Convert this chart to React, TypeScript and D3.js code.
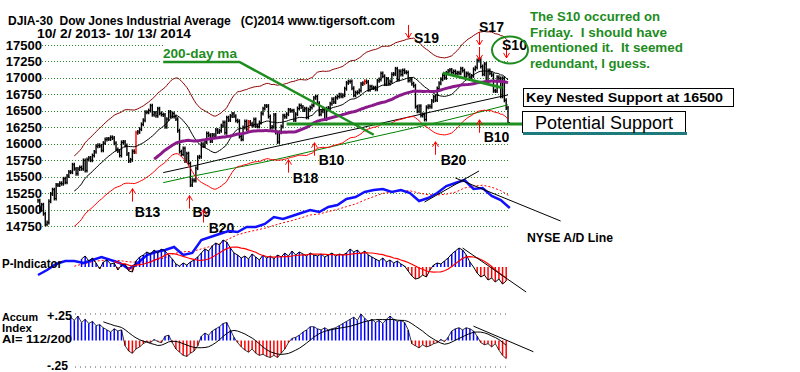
import React, { useEffect, useRef } from "react";
import * as d3 from "d3";

// DJIA daily closes, 10/2/2013 .. 10/13/2014
const closes: number[] = [
	// Oct 2013
	15133, 14996, 15072, 14936, 14776, 14802, 15126, 15237, 15301, 15168, 15373,
	15371, 15399, 15392, 15467, 15413, 15509, 15570, 15568, 15680, 15618, 15545,
	// Nov
	15615, 15639, 15618, 15746, 15593, 15761, 15783, 15750, 15821, 15876, 15961,
	15976, 15967, 15900, 16009, 16064, 16073, 16072, 16097, 16086,
	// Dec
	16008, 15914, 15889, 15821, 16020, 16025, 15973, 15844, 15739, 15755, 15885,
	15875, 16167, 16179, 16221, 16294, 16357, 16479, 16478, 16504, 16577,
	// Jan 2014
	16441, 16469, 16425, 16531, 16462, 16444, 16437, 16257, 16374, 16482, 16418,
	16459, 16415, 16374, 16198, 15880, 15838, 15929, 15739, 15849, 15699,
	// Feb
	15373, 15445, 15441, 15629, 15795, 15802, 15994, 15964, 16027, 16154, 16130,
	16040, 16133, 16104, 16208, 16179, 16198, 16272, 16322,
	// Mar
	16168, 16395, 16360, 16421, 16453, 16419, 16351, 16341, 16109, 16066, 16247,
	16337, 16222, 16331, 16303, 16277, 16368, 16268, 16264, 16323, 16458,
	// Apr
	16533, 16573, 16572, 16413, 16246, 16256, 16437, 16170, 16027, 16174, 16263,
	16425, 16409, 16449, 16514, 16501, 16502, 16361, 16449, 16535, 16581,
	// May
	16559, 16513, 16531, 16401, 16518, 16551, 16583, 16696, 16715, 16614, 16447,
	16492, 16512, 16374, 16533, 16543, 16607, 16676, 16634, 16699, 16717,
	// Jun
	16743, 16722, 16737, 16836, 16924, 16943, 16945, 16843, 16735, 16776, 16781,
	16808, 16906, 16921, 16947, 16937, 16818, 16867, 16846, 16851, 16827,
	// Jul
	16956, 16976, 17068, 17024, 16906, 16985, 16915, 16944, 17055, 17060, 17138,
	16976, 17100, 17052, 17114, 17087, 17083, 16961, 16982, 16912, 16881, 16563,
	// Aug
	16493, 16570, 16429, 16443, 16368, 16554, 16570, 16560, 16651, 16713, 16663,
	16838, 16919, 16979, 17039, 17001, 17077, 17107, 17122, 17080, 17098,
	// Sep
	17068, 17079, 17069, 17138, 17111, 17014, 17068, 17049, 16988, 17031, 17131,
	17157, 17266, 17280, 17173, 17056, 17210, 16946, 17113, 17071, 17043,
	// Oct
	16804, 16801, 17009, 16992, 16720, 16994, 16660, 16544, 16321,
];

const priceTicks = [
	17500, 17250, 17000, 16750, 16500, 16250, 16000, 15750, 15500, 15250, 15000,
	14750,
];

// longer averages (day index -> value)
const slowMaDays = [69, 84, 123, 178, 217, 259];
const ma200 = [15409, 15500, 15712, 16061, 16303, 16591];
const maSlow = [15561, 15652, 15909, 16242, 16485, 16742];

// NYSE A/D line, weekly (every 5 trading days), relative units
const adLine = [
	5, 10, 16, 19, 19, 17, 20, 23, 20, 17, 11, 17, 25, 28, 30, 33, 25, 27, 40,
	43, 46, 49, 48, 53, 53, 56, 63, 61, 64, 67, 70, 68, 73, 75, 81, 83, 88, 90,
	91, 88, 90, 87, 79, 82, 87, 94, 97, 100, 91, 92, 84, 80, 72,
];

// P-Indicator, every 2nd trading day from day 24
const pStartDay = 24;
const pIndicator = [
	8, 11, 6, 9, 4, -2, 5, 7, 3, 4, -3, 2, 3, -4, -5, 6, 10, 12, 15, 13, 17, 14,
	18, 16, 12, 8, 3, 1, 4, 2, 5, 7, 10, 14, 18, 16, 21, 24, 22, 27, 25, 19, 14,
	12, 9, 11, 8, 13, 10, 7, 12, 9, 11, 8, 12, 10, 14, 11, 16, 12, 15, 13, 11,
	14, 12, 11, 13, 10, 12, 14, 11, 13, 12, 14, 18, 15, 17, 13, 16, 12, 10, 8, 6,
	9, 5, 7, 4, 6, 3, 1, -4, -9, -12, -11, -8, -10, -3, 2, 4, 3, 6, 9, 13, 16,
	19, 17, 12, 5, 0, -6, -10, -8, -13, -11, -15, -12, -17, -14,
];

// Accumulation Index (hundredths), every 2nd trading day from day 18
const accStartDay = 18;
const accumIndex = [
	22, 19, 23, 17, 20, 16, 18, 14, 15, 12, 10, 8, 11, 9, 10, -5, -10, -12, -8,
	-6, -3, -1, -2, 1, -1, -2, 4, 5, -2, -8, -11, -14, -15, -12, -10, -5, 4, 7,
	5, 9, 11, 13, 16, 17, 10, 3, -2, -6, -9, -11, -8, -12, -14, -13, -15, -16,
	-14, -16, -12, -8, -2, 2, 3, 5, 8, 10, 13, 13, 11, 10, 12, 10, 11, 12, 14,
	16, 18, 20, 22, 19, 25, 21, 18, 20, 17, 19, 16, 20, 23, 20, 18, 19, 17, 10,
	-3, -5, -7, -4, -6, -5, -3, -2, 1, -1, 3, 9, 11, 12, 10, 12, 11, 9, 4, -2,
	-4, -3, -6, -3, -9, -14, -17,
];

// buy / sell signals: arrow tip at (day, price)
const signals = [
	{ label: "B13", day: 52, price: 15318 },
	{ label: "B9", day: 83, price: 15212 },
	{ label: "B20", day: 91, price: 15000 },
	{ label: "B18", day: 138, price: 15758 },
	{ label: "B10", day: 152, price: 16015 },
	{ label: "B20", day: 219, price: 16030 },
	{ label: "B10", day: 243, price: 16364 },
	{ label: "S19", day: 204, price: 17606 },
	{ label: "S17", day: 243, price: 17500 },
	{ label: "", day: 243, price: 17273 },
	{ label: "S10", day: 258, price: 17303 },
];
const redBarDays = [54, 116, 180];

const labelNudge: Record<string, [number, number]> = {
	B13: [15, 23],
	B9: [12, 16],
	B20: [18, 18],
	B18: [17, 18],
	B10: [17, 17],
	S19: [18, 0],
	S17: [12, -18],
	S10: [8, -13],
};

const note = [
	"The S10 occurred on",
	"Friday.  I should have",
	"mentioned it.  It seemed",
	"redundant, I guess.",
];
const noteWidths = [130, 137, 153, 120];

const FONT = "'Liberation Sans', Arial, sans-serif";

const rolling = (arr: number[], n: number) =>
	arr.map((_, i) =>
		i < n - 1 ? null : (d3.mean(arr.slice(i - n + 1, i + 1)) as number)
	);

const App: React.FC = () => {
	const svgRef = useRef<SVGSVGElement>(null);

	useEffect(() => {
		if (!svgRef.current) return;
		const svg = d3.select(svgRef.current);
		svg.selectAll("*").remove();

		const x = d3.scaleLinear().domain([0, closes.length - 1]).range([38, 508]);
		const y = d3.scaleLinear().domain([14750, 17500]).range([226, 45]);
		const adY = d3.scaleLinear().domain([0, 100]).range([280, 180]);
		const pY = d3.scaleLinear().domain([-30, 30]).range([297, 237]);
		const aY = d3.scaleLinear().domain([-25, 25]).range([367, 314]);

		svg.append("rect").attr("width", 800).attr("height", 372).attr("fill", "#fff");

		const text = (
			s: string,
			tx: number,
			ty: number,
			size: number,
			opts: { bold?: boolean; fill?: string; len?: number; anchor?: string } = {}
		) => {
			const t = svg
				.append("text")
				.attr("x", tx)
				.attr("y", ty)
				.attr("font-family", FONT)
				.attr("font-size", size)
				.attr("font-weight", opts.bold === false ? "normal" : "bold")
				.attr("fill", opts.fill || "#000")
				.attr("text-anchor", opts.anchor || "start")
				.style("white-space", "pre")
				.text(s);
			if (opts.len) t.attr("textLength", opts.len).attr("lengthAdjust", "spacingAndGlyphs");
			return t;
		};

		// grid
		const gridSpans = (v: number) =>
			v === 17500 ? [[42, 165], [310, 470]] : v === 17250 ? [[42, 162], [300, 508]] : [[42, 508]];
		priceTicks.forEach((v) => {
			gridSpans(v).forEach(([a, b]) =>
				svg
					.append("line")
					.attr("x1", a)
					.attr("x2", b)
					.attr("y1", Math.round(y(v)) + 0.5)
					.attr("y2", Math.round(y(v)) + 0.5)
					.attr("stroke", "#2f8f2f")
					.attr("stroke-dasharray", "1,2")
			);
			text(String(v), 42, y(v) + 4.5, 13, { anchor: "end" });
		});

		// price bars
		const bars = svg.append("g");
		closes.forEach((c, i) => {
			const prev = i > 0 ? closes[i - 1] : c;
			const lo = Math.min(prev, c) - 30;
			const hi = Math.max(prev, c) + 30;
			const col = redBarDays.includes(i) ? "#f00" : "#000";
			bars
				.append("line")
				.attr("x1", x(i))
				.attr("x2", x(i))
				.attr("y1", y(lo))
				.attr("y2", y(hi))
				.attr("stroke", col)
				.attr("stroke-width", 1.4);
			bars
				.append("line")
				.attr("x1", x(i))
				.attr("x2", x(i) + 2)
				.attr("y1", y(c))
				.attr("y2", y(c))
				.attr("stroke", col);
		});

		// averages and bands
		const ma21 = rolling(closes, 21);
		const ma65 = rolling(closes, 65);
		const dayLine = d3
			.line<number | null>()
			.defined((d) => d != null)
			.x((_, i) => x(i))
			.y((d) => y(d as number));
		const addPath = (d: string | null, stroke: string, w: number, dash?: string) =>
			svg
				.append("path")
				.attr("d", d)
				.attr("fill", "none")
				.attr("stroke", stroke)
				.attr("stroke-width", w)
				.attr("stroke-dasharray", dash || null);

		const sampled = d3
			.line<number>()
			.x((_, i) => x(slowMaDays[i]))
			.y((d) => y(d))
			.curve(d3.curveMonotoneX);
		addPath(sampled(ma200), "#008000", 1);
		addPath(sampled(maSlow), "#000", 1);
		addPath(dayLine(ma21.map((v) => (v == null ? null : v * 1.035))), "#8b0000", 1);
		addPath(dayLine(ma21.map((v) => (v == null ? null : v * 0.965))), "#f00", 1);
		addPath(dayLine(ma21), "#000", 1);
		addPath(dayLine(ma65), "#8a1a8a", 3);

		// green annotations on the price panel
		const green = "#1e8c1e";
		const ptLine = d3
			.line<[number, number]>()
			.x((d) => x(d[0]))
			.y((d) => y(d[1]));
		addPath(ptLine([[137, 16300], [268, 16300]]), "#1f8f1f", 3);
		addPath(ptLine([[223, 17076], [256, 16849]]), "#1f8f1f", 3);
		addPath(ptLine([[69, 17242], [111, 17242], [185, 16136]]), green, 2.5);
		text("200-day ma", 163, 57.5, 13, { fill: green, len: 74 });

		// signal arrows
		const arrow = (ax: number, tip: number, dir: number) => {
			const tail = tip + dir * 13;
			const g = svg.append("g").attr("stroke", "#f00").attr("fill", "none");
			g.append("line").attr("x1", ax).attr("x2", ax).attr("y1", tip).attr("y2", tail);
			g.append("path").attr(
				"d",
				`M${ax - 3},${tip + dir * 5} L${ax},${tip} L${ax + 3},${tip + dir * 5}`
			);
		};
		signals.forEach((s) => {
			const ax = Math.round(x(s.day)) + 0.5;
			const tip = y(s.price);
			const dir = s.label.startsWith("B") ? 1 : -1;
			arrow(ax, tip, dir);
			if (s.label) {
				const [dx, dy] = labelNudge[s.label];
				text(s.label, ax + dx, tip + dy + 5, 14, { anchor: "middle" });
			}
		});
		svg
			.append("ellipse")
			.attr("cx", 510)
			.attr("cy", 50)
			.attr("rx", 18)
			.attr("ry", 13.5)
			.attr("fill", "none")
			.attr("stroke", green)
			.attr("stroke-width", 2);

		// NYSE A/D line
		const adX = (i: number) => x(i * 5);
		const adPath = d3
			.line<number | null>()
			.defined((d) => d != null)
			.x((_, i) => adX(i))
			.y((d) => adY(d as number));
		addPath(adPath(rolling(adLine, 5)), "#f00", 1, "2,2");
		addPath(adPath(adLine), "#1010ff", 2.5);
		const adTrend = d3
			.line<[number, number]>()
			.x((d) => x(d[0]))
			.y((d) => adY(d[1]));
		addPath(adTrend([[230, 102], [288, 59]]), "#000", 1);
		addPath(adTrend([[213, 78], [243, 109]]), "#000", 1);

		// P-Indicator
		const pDay = (k: number) => pStartDay + 2 * k;
		pIndicator.forEach((v, k) =>
			svg
				.append("line")
				.attr("x1", x(pDay(k)))
				.attr("x2", x(pDay(k)))
				.attr("y1", pY(0))
				.attr("y2", pY(v))
				.attr("stroke", v >= 0 ? "#0000ff" : "#f00")
				.attr("stroke-width", 1.5)
		);
		const pLine = d3
			.line<number | null>()
			.defined((d) => d != null)
			.x((_, k) => x(pDay(k)))
			.y((d) => pY(d as number));
		addPath(pLine(pIndicator), "#000", 1);
		addPath(pLine(rolling(pIndicator, 10)), "#f00", 1.2);
		const pTrend = d3
			.line<[number, number]>()
			.x((d) => x(d[0]))
			.y((d) => pY(d[1]));
		addPath(pTrend([[234, 19], [269, -25]]), "#000", 1);

		// Accumulation Index
		[25, -25].forEach((v) =>
			svg
				.append("line")
				.attr("x1", 75)
				.attr("x2", 510)
				.attr("y1", aY(v))
				.attr("y2", aY(v))
				.attr("stroke", "#555")
				.attr("stroke-dasharray", "1,4")
		);
		const aDay = (k: number) => accStartDay + 2 * k;
		accumIndex.forEach((v, k) =>
			svg
				.append("line")
				.attr("x1", x(aDay(k)))
				.attr("x2", x(aDay(k)))
				.attr("y1", aY(0))
				.attr("y2", aY(v))
				.attr("stroke", v >= 0 ? "#0000ff" : "#f00")
				.attr("stroke-width", 1.5)
		);
		const aLine = d3
			.line<number | null>()
			.defined((d) => d != null)
			.x((_, k) => x(aDay(k)))
			.y((d) => aY(d as number));
		addPath(aLine(accumIndex), "#000", 0.8);
		addPath(aLine(rolling(accumIndex, 10)), "#000", 1);
		const aTrend = d3
			.line<[number, number]>()
			.x((d) => x(d[0]))
			.y((d) => aY(d[1]));
		addPath(aTrend([[240, 13.5], [273, -10.6]]), "#000", 1);

		// panel labels
		text("P-Indicator", 2, 267.5, 12, { len: 60 });
		text("Accum", 2, 321, 11, { len: 36 });
		text("Index", 2, 332, 11, { len: 30 });
		text("AI= 112/200", 2, 343, 11, { len: 70 });
		text("+.25", 47, 319.5, 13, { len: 25 });
		text("-.25", 47, 369.5, 12, { len: 21 });
		text("NYSE A/D Line", 527, 242, 12, { len: 86 });

		// header
		text("DJIA-30  Dow Jones Industrial Average   (C)2014 www.tigersoft.com", 8, 25, 12, {
			len: 387,
		});
		text("10/ 2/ 2013- 10/ 13/ 2014", 37, 37.5, 12, { len: 154 });

		// comment boxes
		note.forEach((s, i) => text(s, 530, 21 + i * 15.7, 12, { fill: green, len: noteWidths[i] }));
		svg
			.append("rect")
			.attr("x", 523.5)
			.attr("y", 88.5)
			.attr("width", 210)
			.attr("height", 18)
			.attr("fill", "#fff")
			.attr("stroke", "#000");
		text("Key Nested Support at 16500", 526, 101.5, 13, { len: 197 });
		svg
			.append("rect")
			.attr("x", 522.5)
			.attr("y", 111.5)
			.attr("width", 163)
			.attr("height", 21)
			.attr("fill", "#fff")
			.attr("stroke", "#000");
		svg
			.append("line")
			.attr("x1", 523)
			.attr("x2", 687)
			.attr("y1", 133.5)
			.attr("y2", 133.5)
			.attr("stroke", "#1e7b7b")
			.attr("stroke-width", 3);
		text("Potential Support", 535, 128.5, 18, { bold: false, len: 138 });
	}, []);

	return (
		<svg
			ref={svgRef}
			width={800}
			height={372}
			style={{ position: "absolute", left: 0, top: 0 }}
		/>
	);
};

export default App;
